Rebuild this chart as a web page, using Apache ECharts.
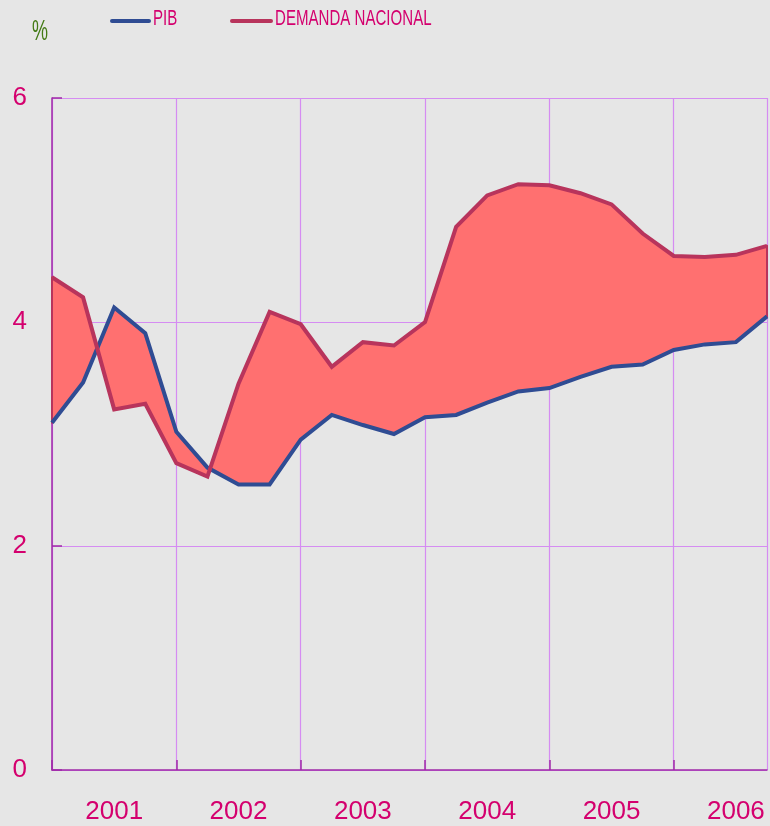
<!DOCTYPE html>
<html>
<head>
<meta charset="utf-8">
<script src="https://cdn.jsdelivr.net/npm/echarts@6/dist/echarts.min.js"></script>
<style>
  html, body { margin: 0; padding: 0; background: #e6e6e6; }
  #chart { width: 770px; height: 826px; }
</style>
</head>
<body>
<div id="chart"></div>
<script>
// Quarterly growth rates (%), 2001 I – 2006 IV
const quarters = [
  '2001 I', '2001 II', '2001 III', '2001 IV',
  '2002 I', '2002 II', '2002 III', '2002 IV',
  '2003 I', '2003 II', '2003 III', '2003 IV',
  '2004 I', '2004 II', '2004 III', '2004 IV',
  '2005 I', '2005 II', '2005 III', '2005 IV',
  '2006 I', '2006 II', '2006 III', '2006 IV'
];
const yearLabels = ['2001', '2002', '2003', '2004', '2005', '2006'];
const pib = [3.10, 3.46, 4.13, 3.90, 3.02, 2.70, 2.55, 2.55, 2.95, 3.17, 3.08, 3.00,
             3.15, 3.17, 3.28, 3.38, 3.41, 3.51, 3.60, 3.62, 3.75, 3.80, 3.82, 4.05];
const demanda = [4.40, 4.22, 3.22, 3.27, 2.74, 2.62, 3.45, 4.09, 3.98, 3.60, 3.82, 3.79,
                 4.00, 4.85, 5.13, 5.23, 5.22, 5.15, 5.05, 4.79, 4.59, 4.58, 4.60, 4.68];
const yTicks = [0, 2, 4, 6];

const PINK = '#d4006e';
const GRID = '#d58cf2';
const AXIS = '#a02aa8';
const BLUE = '#2f4c93';
const CRIMSON = '#b8345c';
const BAND = '#ff7070';
const FONT = "'Liberation Sans', Arial, sans-serif";

const chart = echarts.init(document.getElementById('chart'));

// Band between the two series: one closed path (PIB forward, demand backward),
// so the crossing segments fill as bow-ties.
function renderBand(params, api) {
  const pts = [];
  for (let i = 0; i < pib.length; i++) pts.push(api.coord([i, pib[i]]));
  for (let i = demanda.length - 1; i >= 0; i--) pts.push(api.coord([i, demanda[i]]));
  return {
    type: 'polygon',
    shape: { points: pts },
    style: { fill: BAND, stroke: CRIMSON, lineWidth: 2, lineJoin: 'round' }
  };
}

const legendItems = [
  { name: 'PIB', color: BLUE, x0: 112, x1: 149, tx: 153 },
  { name: 'DEMANDA NACIONAL', color: CRIMSON, x0: 232, x1: 271, tx: 275 }
];
const graphics = [];
legendItems.forEach(function (it) {
  graphics.push({
    type: 'line', silent: true,
    shape: { x1: it.x0, y1: 21, x2: it.x1, y2: 21 },
    style: { stroke: it.color, lineWidth: 4, lineCap: 'round' }
  });
  graphics.push({
    type: 'text', silent: true, x: it.tx, y: 19, scaleX: 0.685,
    style: {
      text: it.name, fill: PINK, fontSize: 22, fontFamily: FONT,
      verticalAlign: 'middle', align: 'left'
    }
  });
});
graphics.push({
  type: 'text', silent: true, x: 32, y: 32, scaleX: 0.62,
  style: {
    text: '%', fill: '#437a14', fontSize: 29, fontFamily: FONT,
    verticalAlign: 'middle', align: 'left'
  }
});

chart.setOption({
  backgroundColor: '#e6e6e6',
  animation: false,
  grid: { left: 52, right: 3, top: 98, bottom: 56, containLabel: false },
  graphic: graphics,
  xAxis: {
    type: 'category',
    data: quarters,
    boundaryGap: false,
    axisLine: { lineStyle: { color: AXIS, width: 1.5 } },
    axisTick: {
      inside: true, length: 10,
      interval: function (i) { return i % 4 === 0; },
      lineStyle: { color: AXIS, width: 1.5 }
    },
    axisLabel: {
      interval: function (i) { return i % 4 === 2; },
      formatter: function (v, i) { return yearLabels[Math.floor(i / 4)]; },
      color: PINK, fontSize: 26, fontFamily: FONT, margin: 29
    },
    splitLine: {
      show: true,
      interval: function (i) { return i % 4 === 0 || i === quarters.length - 1; },
      lineStyle: { color: GRID, width: 1.2 }
    }
  },
  yAxis: {
    type: 'value',
    min: yTicks[0], max: yTicks[yTicks.length - 1], interval: 2,
    axisLine: { show: true, lineStyle: { color: AXIS, width: 1.5 } },
    axisTick: { show: true, inside: true, length: 10, lineStyle: { color: AXIS, width: 1.5 } },
    axisLabel: { color: PINK, fontSize: 26, fontFamily: FONT, margin: 25 },
    splitLine: { show: true, lineStyle: { color: GRID, width: 1.2 } }
  },
  series: [
    {
      type: 'custom',
      name: 'band',
      renderItem: renderBand,
      data: [[0, 0]],
      silent: true,
      z: 1
    },
    {
      type: 'line', name: 'PIB', data: pib,
      symbol: 'none', z: 3,
      lineStyle: { color: BLUE, width: 4, join: 'miter' }
    },
    {
      type: 'line', name: 'DEMANDA NACIONAL', data: demanda,
      symbol: 'none', z: 4,
      lineStyle: { color: CRIMSON, width: 4, join: 'miter' }
    }
  ]
});
</script>
</body>
</html>
